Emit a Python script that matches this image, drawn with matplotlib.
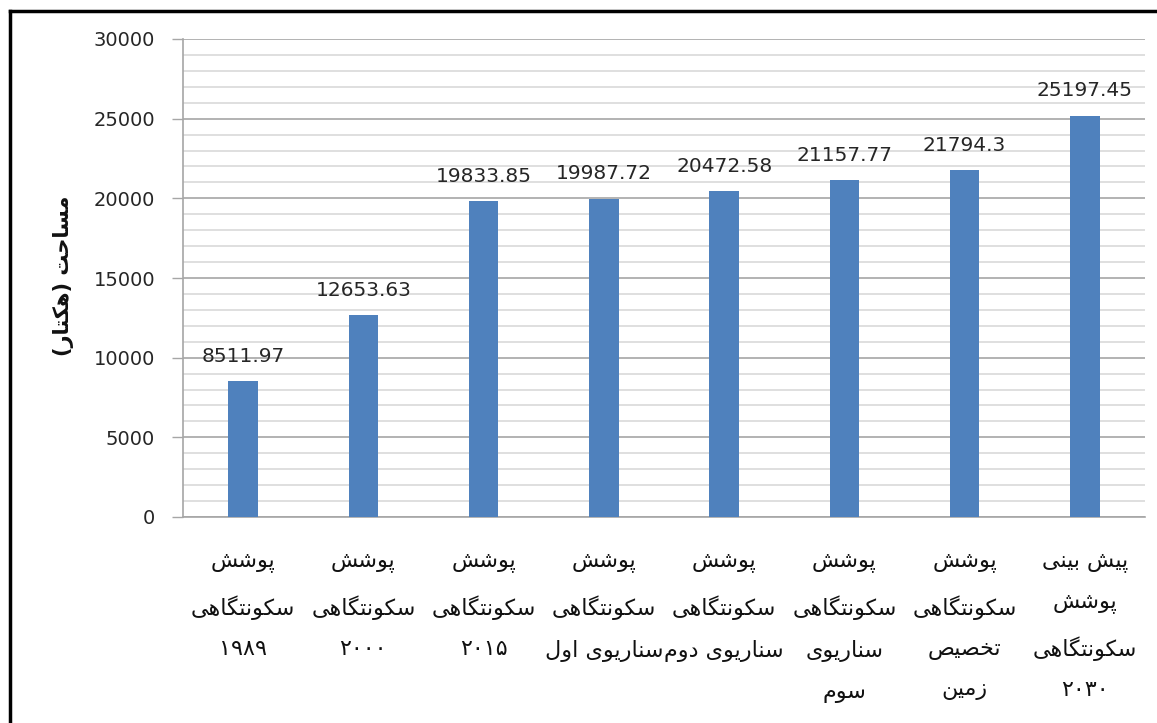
import matplotlib
matplotlib.use('Agg')
import matplotlib.pyplot as plt
from matplotlib.lines import Line2D
from matplotlib.ticker import MultipleLocator

# ── Data ──────────────────────────────────────────────────────────────────────
categories = [
    'پوشش\nسکونتگاهی\n۱۹۸۹',
    'پوشش\nسکونتگاهی\n۲۰۰۰',
    'پوشش\nسکونتگاهی\n۲۰۱۵',
    'پوشش\nسکونتگاهی\nسناریوی اول',
    'پوشش\nسکونتگاهی\nسناریوی دوم',
    'پوشش\nسکونتگاهی\nسناریوی\nسوم',
    'پوشش\nسکونتگاهی\nتخصیص\nزمین',
    'پیش بینی\nپوشش\nسکونتگاهی\n۲۰۳۰',
]
values = [8511.97, 12653.63, 19833.85, 19987.72, 20472.58, 21157.77, 21794.3, 25197.45]
value_labels = ['8511.97', '12653.63', '19833.85', '19987.72', '20472.58',
                '21157.77', '21794.3', '25197.45']
y_label = 'مساحت (هکتار)'
y_ticks = [0, 5000, 10000, 15000, 20000, 25000, 30000]

BAR_COLOR = '#4F81BD'
TEXT_COLOR = '#262626'

# ── Minimal Arabic/Persian shaping (matplotlib has no complex text layout) ───
# letter: (isolated, final, initial, medial); None initial => right-joining only
_FORMS = {
    'ا': (0xFE8D, 0xFE8E, None, None),
    'ب': (0xFE8F, 0xFE90, 0xFE91, 0xFE92),
    'پ': (0xFB56, 0xFB57, 0xFB58, 0xFB59),
    'ت': (0xFE95, 0xFE96, 0xFE97, 0xFE98),
    'ح': (0xFEA1, 0xFEA2, 0xFEA3, 0xFEA4),
    'خ': (0xFEA5, 0xFEA6, 0xFEA7, 0xFEA8),
    'د': (0xFEA9, 0xFEAA, None, None),
    'ر': (0xFEAD, 0xFEAE, None, None),
    'ز': (0xFEAF, 0xFEB0, None, None),
    'س': (0xFEB1, 0xFEB2, 0xFEB3, 0xFEB4),
    'ش': (0xFEB5, 0xFEB6, 0xFEB7, 0xFEB8),
    'ص': (0xFEB9, 0xFEBA, 0xFEBB, 0xFEBC),
    'ک': (0xFB8E, 0xFB8F, 0xFB90, 0xFB91),
    'گ': (0xFB92, 0xFB93, 0xFB94, 0xFB95),
    'ل': (0xFEDD, 0xFEDE, 0xFEDF, 0xFEE0),
    'م': (0xFEE1, 0xFEE2, 0xFEE3, 0xFEE4),
    'ن': (0xFEE5, 0xFEE6, 0xFEE7, 0xFEE8),
    'ه': (0xFEE9, 0xFEEA, 0xFEEB, 0xFEEC),
    'و': (0xFEED, 0xFEEE, None, None),
    'ی': (0xFBFC, 0xFBFD, 0xFBFE, 0xFBFF),
}
_MIRROR = {'(': ')', ')': '('}
_DIGITS = set('۰۱۲۳۴۵۶۷۸۹0123456789')


def _shape_line(line):
    if all(c in _DIGITS or c == ' ' for c in line):
        return line
    out = []
    for i, ch in enumerate(line):
        if ch not in _FORMS:
            out.append(_MIRROR.get(ch, ch))
            continue
        prev = line[i - 1] if i > 0 else None
        nxt = line[i + 1] if i + 1 < len(line) else None
        iso, fin, ini, med = _FORMS[ch]
        join_prev = prev in _FORMS and _FORMS[prev][2] is not None
        join_next = nxt in _FORMS and ini is not None
        if join_prev and join_next:
            code = med
        elif join_prev:
            code = fin
        elif join_next:
            code = ini
        else:
            code = iso
        out.append(chr(code))
    return ''.join(out)[::-1]


def fa(text):
    return '\n'.join(_shape_line(l) for l in text.split('\n'))


# ── Figure ────────────────────────────────────────────────────────────────────
plt.rcParams['font.family'] = ['DejaVu Sans']
fig = plt.figure(figsize=(11.57, 7.23), dpi=100)
ax = fig.add_axes([183 / 1157, 1 - 517 / 723, (1145 - 183) / 1157, (517 - 39) / 723])

x = list(range(len(values)))
ax.bar(x, values, width=0.245, color=BAR_COLOR, zorder=3)

for xi, v, lab in zip(x, values, value_labels):
    ax.text(xi, v + 950, lab, ha='center', va='bottom', fontsize=14.5,
            color=TEXT_COLOR, zorder=4)

ax.set_xlim(-0.5, len(values) - 0.5)
ax.set_ylim(0, 30000)
ax.set_yticks(y_ticks)
ax.set_yticklabels([str(t) for t in y_ticks], fontsize=14, color=TEXT_COLOR)
ax.yaxis.set_minor_locator(MultipleLocator(1000))
ax.grid(axis='y', which='minor', color='#D9D9D9', linewidth=1.2, zorder=0)
ax.grid(axis='y', which='major', color='#A6A6A6', linewidth=1.2, zorder=0)
ax.tick_params(axis='y', which='major', length=8, width=1, color='#A6A6A6', pad=12)
ax.tick_params(axis='y', which='minor', length=0)
ax.tick_params(axis='x', length=0)
ax.set_xticks([])

for side in ['top', 'right']:
    ax.spines[side].set_visible(False)
ax.spines['left'].set_color('#A6A6A6')
ax.spines['bottom'].set_color('#A6A6A6')
ax.spines['left'].set_linewidth(1.2)
ax.spines['bottom'].set_linewidth(1.2)

# category labels below the axis
for xi, cat in zip(x, categories):
    ax.annotate(fa(cat), xy=(xi, 0), xycoords=('data', 'axes fraction'),
                xytext=(0, -25), textcoords='offset points',
                ha='center', va='top', fontsize=16, color='#111111',
                linespacing=2.2)

fig.text(63 / 1157, 1 - 276 / 723, fa(y_label), rotation=90, ha='center',
         va='center', fontsize=15, fontweight='bold', color='#111111')

# outer frame (left and top edges only, as in the reference crop)
fig.add_artist(Line2D([10 / 1157, 10 / 1157], [0, 1 - 11 / 723],
                      transform=fig.transFigure, color='black', linewidth=2.5))
fig.add_artist(Line2D([10 / 1157, 1], [1 - 11 / 723, 1 - 11 / 723],
                      transform=fig.transFigure, color='black', linewidth=2.5))

fig.savefig('out.png', dpi=100)
